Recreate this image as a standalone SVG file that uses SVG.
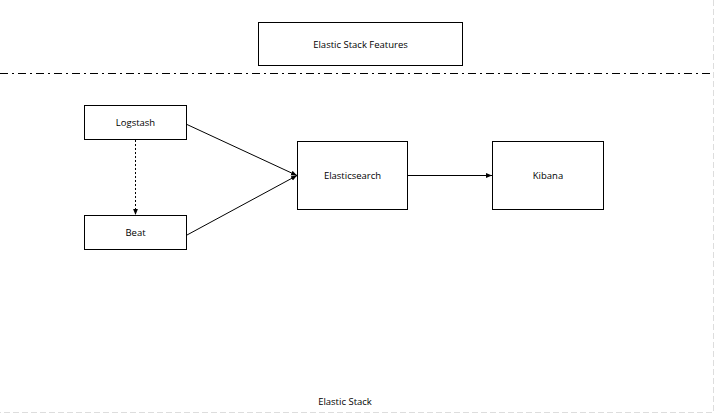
<svg xmlns="http://www.w3.org/2000/svg" width="718" height="415" viewBox="0 0 718 415">
<style>
.box{fill:#fff;stroke:#000;stroke-width:1}
.lbl{font-family:"Open Sans","Liberation Sans",sans-serif;font-size:9.5px;fill:#000;text-anchor:middle;dominant-baseline:central}
.edge{stroke:#000;stroke-width:1;fill:none}
</style>
<defs>
<marker id="arr" viewBox="0 0 10 10" refX="10" refY="5" markerWidth="6" markerHeight="6" orient="auto" markerUnits="userSpaceOnUse">
<path d="M0,1 L10,5 L0,9 z" fill="#000"/>
</marker>
</defs>
<rect x="0" y="0" width="718" height="415" fill="#fff"/>
<g id="frame">
<path d="M713.5,0 V412.5 H0" stroke="#ddd" stroke-width="1" fill="none" stroke-dasharray="6,3"/>
<line x1="0" y1="73.5" x2="713" y2="73.5" stroke="#000" stroke-width="1" stroke-dasharray="8,4,2,4"/>
</g>
<g id="title"><rect class="box" x="258.5" y="22.5" width="204" height="43"/><text class="lbl" x="360.5" y="44">Elastic Stack Features</text></g>
<g id="logstash"><rect class="box" x="84.5" y="105.5" width="102" height="34"/><text class="lbl" x="135.5" y="122.5">Logstash</text></g>
<g id="beat"><rect class="box" x="84.5" y="215.5" width="102" height="34"/><text class="lbl" x="135.5" y="232.5">Beat</text></g>
<g id="elasticsearch"><rect class="box" x="297.5" y="141.5" width="110" height="68"/><text class="lbl" x="352.5" y="175">Elasticsearch</text></g>
<g id="kibana"><rect class="box" x="492.5" y="141.5" width="111" height="68"/><text class="lbl" x="548" y="175">Kibana</text></g>
<g id="connectors">
<line class="edge" x1="187" y1="124.5" x2="297" y2="175.5" marker-end="url(#arr)"/>
<line class="edge" x1="187" y1="235" x2="297" y2="175.5" marker-end="url(#arr)"/>
<line class="edge" x1="135.5" y1="140" x2="135.5" y2="215" stroke-dasharray="2,2" marker-end="url(#arr)"/>
<line class="edge" x1="408" y1="175.5" x2="492" y2="175.5" marker-end="url(#arr)"/>
</g>
<g id="caption"><text class="lbl" x="345" y="401.5">Elastic Stack</text></g>
</svg>
